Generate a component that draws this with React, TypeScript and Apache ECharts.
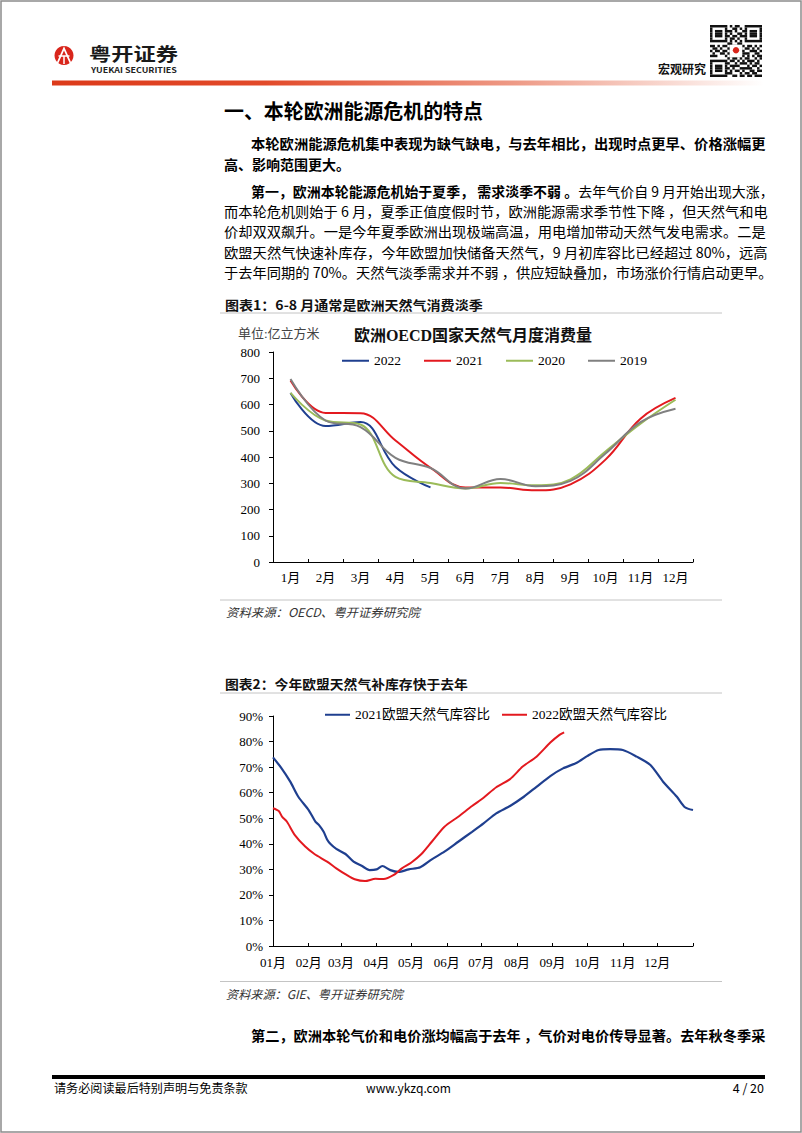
import React, { useEffect, useRef } from "react";
import * as echarts from "echarts";

// ---------- Chart 1: 欧洲OECD国家天然气月度消费量 (亿立方米) ----------
const monthCats = ["1月", "2月", "3月", "4月", "5月", "6月", "7月", "8月", "9月", "10月", "11月", "12月"];
const cons2022 = [644, 518, 533, 362, 284];
const cons2021 = [691, 568, 567, 463, 359, 284, 284, 273, 296, 390, 546, 625];
const cons2020 = [644, 539, 524, 324, 301, 280, 301, 292, 315, 421, 527, 618];
const cons2019 = [697, 539, 514, 397, 358, 280, 316, 289, 309, 413, 533, 584];
const consNames = ["2022", "2021", "2020", "2019"];

// ---------- Chart 2: 欧盟天然气库容比 (%) ----------
const monthStartIdx = [0, 31, 59, 90, 120, 151, 181, 212, 243, 273, 304, 334, 365];
const monthLabels2 = ["01月", "02月", "03月", "04月", "05月", "06月", "07月", "08月", "09月", "10月", "11月", "12月"];
const stor2021: [number, number][] = [
  [0, 73.8], [7, 69.8], [15, 64.3], [22, 58.4], [31, 53.2], [37, 48.6], [40, 47.3], [44, 44.7],
  [47, 41.7], [50, 39.9], [55, 38], [63, 36], [70, 33], [77, 31.4], [84, 29.7], [90, 30],
  [95, 31.3], [102, 29.7], [109, 29], [118, 30], [128, 30.8], [138, 33.9], [149, 36.9],
  [161, 40.8], [173, 44.7], [183, 48], [194, 51.9], [206, 54.8], [218, 58.4], [229, 62.3],
  [241, 66.5], [252, 69.5], [264, 71.7], [273, 74.3], [283, 76.7], [293, 77], [304, 76.7],
  [316, 74.1], [328, 70.8], [339, 64.3], [351, 58.4], [358, 54.3], [365, 53.2],
];
const stor2022: [number, number][] = [
  [0, 53.9], [5, 52.8], [8, 50.5], [12, 48.7], [19, 43.4], [28, 38.9], [36, 36], [47, 33],
  [55, 30.4], [64, 27.8], [71, 26.1], [80, 25.4], [89, 26.3], [96, 26.2], [105, 27.8],
  [112, 30.4], [120, 32.6], [129, 36], [138, 40.8], [149, 46.7], [161, 50.6], [173, 54.8],
  [183, 58], [194, 62.1], [206, 65.3], [217, 70.2], [229, 74.1], [241, 79.6], [249, 82.6],
  [253, 83.6],
];
const storNames = ["2021欧盟天然气库容比", "2022欧盟天然气库容比"];
const dayCats = Array.from({ length: 366 }, (_, i) => String(i));

// ---------- Page text ----------
const heading = "一、本轮欧洲能源危机的特点";
const p1L1 = "本轮欧洲能源危机集中表现为缺气缺电，与去年相比，出现时点更早、价格涨幅更";
const p1L2 = "高、影响范围更大。";
const p2L1b = "第一，欧洲本轮能源危机始于夏季， 需求淡季不弱 。";
const p2L1n = "去年气价自 9 月开始出现大涨，";
const p2L2 = "而本轮危机则始于 6 月，夏季正值度假时节，欧洲能源需求季节性下降 ，但天然气和电";
const p2L3 = "价却双双飙升。一是今年夏季欧洲出现极端高温，用电增加带动天然气发电需求。二是";
const p2L4 = "欧盟天然气快速补库存，今年欧盟加快储备天然气，9 月初库容比已经超过 80%，远高";
const p2L5 = "于去年同期的 70%。天然气淡季需求并不弱 ，供应短缺叠加，市场涨价行情启动更早。";
const p3 = "第二，欧洲本轮气价和电价涨均幅高于去年 ，气价对电价传导显著。去年秋冬季采";
const cap1 = "图表1：6-8 月通常是欧洲天然气消费淡季";
const cap2 = "图表2：今年欧盟天然气补库存快于去年";
const src1 = "资料来源：OECD、粤开证券研究院";
const src2 = "资料来源：GIE、粤开证券研究院";
const chart1Title = "欧洲OECD国家天然气月度消费量";
const chart1Unit = "单位:亿立方米";

const qrRows = [
  "111111101011001111111",
  "100000100110101000001",
  "101110111010011011101",
  "101110101001101011101",
  "101110110110111011101",
  "100000101101001000001",
  "111111101010101111111",
  "000000011001100000000",
  "110101101110010110101",
  "011010010011101101010",
  "101101101100110011101",
  "010011010110011100110",
  "111000101001110101011",
  "000000010110101100101",
  "111111101101010111010",
  "100000110010111010110",
  "101110101111000101101",
  "101110110100111110010",
  "101110101011010011011",
  "100000111000101101100",
  "111111100110110110111",
];

const SANS = "'Noto Sans CJK SC', 'Noto Sans', sans-serif";
const SERIF = "'Liberation Serif', 'Times New Roman', 'Noto Sans CJK SC', serif";

export default function App() {
  const ref = useRef<HTMLDivElement>(null);
  useEffect(() => {
    if (!ref.current) return;
    const chart = echarts.init(ref.current, undefined, { renderer: "svg" });
    const ctx = document.createElement("canvas").getContext("2d") as CanvasRenderingContext2D;
    const measure = (t: string, size: number, weight: string, style = "normal") => {
      ctx.font = `${style} ${weight} ${size}px ${SANS}`;
      return ctx.measureText(t).width;
    };
    const txt = (
      text: string, x: number, y: number, size: number, weight: string,
      right?: number, extra: any = {}
    ) => {
      const w = measure(text, size, weight, extra.fontStyle || "normal");
      const sx = right && w > 0 ? (right - x) / w : 1;
      return {
        type: "text", x, y, scaleX: sx, silent: true,
        style: {
          text, fontSize: size, fontWeight: weight, fontFamily: SANS, fill: "#000",
          textVerticalAlign: "middle", ...extra,
        },
      };
    };

    const g: any[] = [];
    // page border
    g.push({ type: "rect", shape: { x: 1, y: 1, width: 800, height: 1131 }, style: { fill: "none", stroke: "#8c8c8c", lineWidth: 1.5 }, silent: true });
    // logo
    g.push({ type: "circle", shape: { cx: 64, cy: 55.5, r: 9.5 }, style: { fill: "#D9261C" }, silent: true });
    g.push({ type: "polyline", shape: { points: [[57.5, 63], [64, 48.5], [70.5, 63]] }, style: { stroke: "#fff", lineWidth: 1.8, fill: "none" }, silent: true });
    g.push({ type: "line", shape: { x1: 58.5, y1: 56, x2: 69.5, y2: 56 }, style: { stroke: "#fff", lineWidth: 1.5 }, silent: true });
    g.push({ type: "line", shape: { x1: 64, y1: 56, x2: 64, y2: 64 }, style: { stroke: "#fff", lineWidth: 1.5 }, silent: true });
    g.push(txt("粤开证券", 89, 53.5, 18, "bold", 178, { fill: "#1a1a1a" }));
    g.push(txt("YUEKAI SECURITIES", 91, 69.5, 7.5, "bold", 177, { fill: "#222" }));
    // gradient header bar
    g.push({
      type: "rect", shape: { x: 52, y: 80.5, width: 712, height: 5 }, silent: true,
      style: {
        fill: new echarts.graphic.LinearGradient(0, 0, 1, 0, [
          { offset: 0, color: "#DC3A1A" },
          { offset: 0.3, color: "#E24A2A" },
          { offset: 0.65, color: "#EE9A86" },
          { offset: 1, color: "#FFFFFF" },
        ]),
      },
    });
    g.push(txt("宏观研究", 658, 68, 12, "bold", 706, { fill: "#111" }));
    // QR code
    const qx = 710, qy = 25, ms = 52 / 21;
    qrRows.forEach((row, r) => {
      let c = 0;
      while (c < row.length) {
        if (row[c] === "1") {
          let e = c;
          while (e < row.length && row[e] === "1") e++;
          g.push({ type: "rect", shape: { x: qx + c * ms, y: qy + r * ms, width: (e - c) * ms, height: ms }, style: { fill: "#111" }, silent: true });
          c = e;
        } else c++;
      }
    });
    g.push({ type: "rect", shape: { x: qx + 8 * ms, y: qy + 8 * ms, width: 5 * ms, height: 5 * ms }, style: { fill: "#fff" }, silent: true });
    g.push({ type: "circle", shape: { cx: qx + 10.5 * ms, cy: qy + 10.2 * ms, r: 3.2 }, style: { fill: "#D9261C" }, silent: true });

    // heading & paragraphs
    g.push(txt(heading, 224, 110, 20, "bold", 483));
    g.push(txt(p1L1, 251, 143, 14, "bold", 766));
    g.push(txt(p1L2, 224, 164, 14, "bold"));
    {
      const wb = measure(p2L1b, 14, "bold");
      const wn = measure(p2L1n, 14, "normal");
      const sx = (774 - 251) / (wb + wn);
      g.push({
        type: "text", x: 251, y: 191.3, scaleX: sx, silent: true,
        style: {
          text: `{b|${p2L1b}}{n|${p2L1n}}`, textVerticalAlign: "middle", fontFamily: SANS, fontSize: 14,
          rich: {
            b: { fontWeight: "bold", fontSize: 14, fontFamily: SANS, fill: "#000", color: "#000" },
            n: { fontWeight: "normal", fontSize: 14, fontFamily: SANS, fill: "#000", color: "#000" },
          },
        },
      });
    }
    g.push(txt(p2L2, 224, 211.3, 14, "normal", 768));
    g.push(txt(p2L3, 224, 231.5, 14, "normal", 766));
    g.push(txt(p2L4, 224, 252, 14, "normal", 768));
    g.push(txt(p2L5, 224, 272, 14, "normal", 773));

    // figure 1 caption + frame texts
    g.push(txt(cap1, 225, 304.3, 13, "bold", 483, { fill: "#111" }));
    g.push({ type: "line", shape: { x1: 220, y1: 313, x2: 722, y2: 313 }, style: { stroke: "#c4c4c4", lineWidth: 1 }, silent: true });
    g.push({ type: "text", x: 238, y: 333, silent: true, style: { text: chart1Unit, fontFamily: SERIF, fontSize: 13, fill: "#444", textVerticalAlign: "middle" } });
    g.push({ type: "text", x: 473, y: 335, silent: true, style: { text: chart1Title, fontFamily: SERIF, fontSize: 16, fontWeight: "bold", fill: "#111", textAlign: "center", textVerticalAlign: "middle" } });
    g.push({ type: "line", shape: { x1: 220, y1: 600, x2: 722, y2: 600 }, style: { stroke: "#c4c4c4", lineWidth: 1 }, silent: true });
    g.push(txt(src1, 226, 612, 12, "normal", 420, { fontStyle: "italic", fill: "#333" }));

    // figure 2 caption
    g.push(txt(cap2, 225, 683, 13, "bold", 468, { fill: "#111" }));
    g.push({ type: "line", shape: { x1: 220, y1: 693, x2: 722, y2: 693 }, style: { stroke: "#c4c4c4", lineWidth: 1 }, silent: true });
    g.push({ type: "line", shape: { x1: 220, y1: 981.5, x2: 722, y2: 981.5 }, style: { stroke: "#c4c4c4", lineWidth: 1 }, silent: true });
    g.push(txt(src2, 226, 994, 12, "normal", 403, { fontStyle: "italic", fill: "#333" }));

    // last paragraph line
    g.push(txt(p3, 251, 1035, 14, "bold", 766));

    // footer
    g.push({ type: "rect", shape: { x: 52, y: 1075, width: 713, height: 4 }, style: { fill: "#000" }, silent: true });
    g.push(txt("请务必阅读最后特别声明与免责条款", 54, 1087.5, 12, "normal", 248));
    g.push(txt("www.ykzq.com", 366, 1087.5, 12.5, "normal", 451));
    g.push({ type: "text", x: 764, y: 1087.5, silent: true, style: { text: "4 / 20", fontFamily: SANS, fontSize: 12.5, fill: "#000", textAlign: "right", textVerticalAlign: "middle" } });

    const axisBlack = { lineStyle: { color: "#000", width: 1 } };
    const lineSeries = (name: string, data: any[], color: string, xi: number, width = 2, smooth: any = 0.4) => ({
      name, type: "line", data, xAxisIndex: xi, yAxisIndex: xi, smooth, symbol: "none", showSymbol: false,
      lineStyle: { color, width }, itemStyle: { color }, silent: true,
    });

    const option: any = {
      animation: false,
      backgroundColor: "#fff",
      graphic: { elements: g },
      legend: [
        {
          data: consNames, left: 337, top: 349, icon: "rect", itemWidth: 27, itemHeight: 2, itemGap: 23,
          textStyle: { fontFamily: SERIF, fontSize: 13.5, color: "#000" }, selectedMode: false,
        },
        {
          data: storNames, left: 320, top: 703, icon: "rect", itemWidth: 25, itemHeight: 2, itemGap: 12,
          textStyle: { fontFamily: SERIF, fontSize: 13.5, color: "#000" }, selectedMode: false,
        },
      ],
      grid: [
        { left: 273, top: 352, width: 420, height: 210 },
        { left: 273, top: 716, width: 420, height: 230 },
      ],
      xAxis: [
        {
          gridIndex: 0, type: "category", data: monthCats, boundaryGap: true,
          axisLine: axisBlack, axisTick: { show: true, inside: true, length: 3, ...axisBlack },
          axisLabel: { fontFamily: SERIF, fontSize: 13, color: "#000", margin: 9 },
          splitLine: { show: false },
        },
        {
          gridIndex: 1, type: "category", data: dayCats, boundaryGap: false,
          axisLine: axisBlack,
          axisTick: { show: true, inside: true, length: 3, ...axisBlack, interval: (i: number) => monthStartIdx.includes(i) },
          axisLabel: {
            fontFamily: SERIF, fontSize: 13, color: "#000", margin: 10,
            interval: (i: number) => monthStartIdx.includes(i) && i < 365,
            formatter: (v: string) => {
              const k = monthStartIdx.indexOf(parseInt(v, 10));
              return k >= 0 && k < 12 ? monthLabels2[k] : "";
            },
          },
          splitLine: { show: false },
        },
      ],
      yAxis: [
        {
          gridIndex: 0, type: "value", min: 0, max: 800, interval: 100,
          axisLine: { show: true, ...axisBlack }, axisTick: { show: true, length: 4, ...axisBlack },
          axisLabel: { fontFamily: SERIF, fontSize: 13, color: "#000", margin: 13 },
          splitLine: { show: false },
        },
        {
          gridIndex: 1, type: "value", min: 0, max: 90, interval: 10,
          axisLine: { show: true, ...axisBlack }, axisTick: { show: true, length: 4, ...axisBlack },
          axisLabel: { fontFamily: SERIF, fontSize: 13, color: "#000", margin: 10, formatter: "{value}%" },
          splitLine: { show: false },
        },
      ],
      series: [
        lineSeries(consNames[0], cons2022, "#1F3F8F", 0),
        lineSeries(consNames[1], cons2021, "#E3191F", 0),
        lineSeries(consNames[2], cons2020, "#9BBB59", 0),
        lineSeries(consNames[3], cons2019, "#808080", 0),
        lineSeries(storNames[0], stor2021, "#1F3F8F", 1, 2.2, 0.25),
        lineSeries(storNames[1], stor2022, "#E3191F", 1, 2, 0.25),
      ],
    };
    chart.setOption(option);
    return () => chart.dispose();
  }, []);
  return (
    <div
      ref={ref}
      style={{ position: "absolute", left: 0, top: 0, width: 802, height: 1133, background: "#fff" }}
    />
  );
}
